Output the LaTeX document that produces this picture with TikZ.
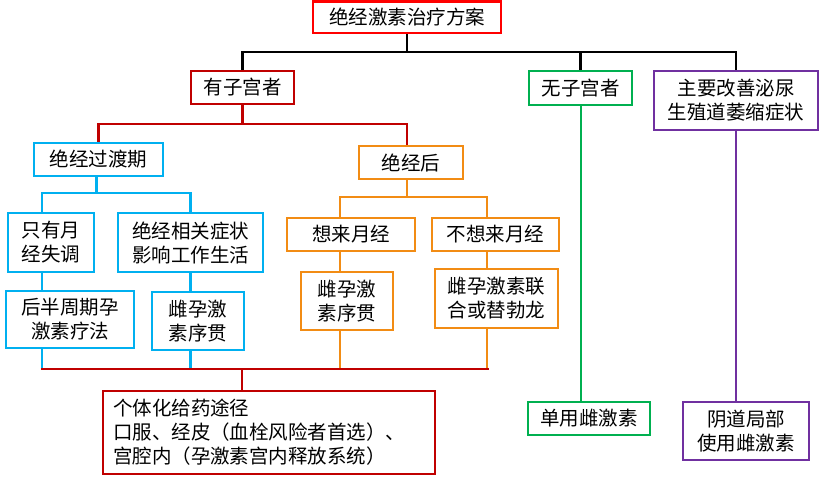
\documentclass[tikz,border=0pt]{standalone}
\usepackage{fontspec}
\setmainfont{Noto Sans CJK SC}
\definecolor{cRoot}{RGB}{255,0,0}
\definecolor{cDark}{RGB}{192,0,0}
\definecolor{cBlue}{RGB}{0,176,240}
\definecolor{cGreen}{RGB}{0,176,80}
\definecolor{cPurple}{RGB}{112,48,160}
\definecolor{cOrange}{RGB}{242,140,20}
\newcommand{\fsz}{\fontsize{19.5}{24}\selectfont}
\begin{document}
\begin{tikzpicture}[x=1pt,y=-1pt,
  box/.style={draw, line width=2.8pt, inner sep=0pt, align=center, font=\fsz, fill=white},
  conn/.style={line width=2.5pt},
  blk/.style={conn, draw=black},
  rl/.style={conn, draw=cDark},
  bl/.style={conn, draw=cBlue},
  ol/.style={conn, draw=cOrange},
  gl/.style={conn, draw=cGreen},
  pl/.style={conn, draw=cPurple}]
\useasboundingbox (0,0) rectangle (820,480);
\coordinate (busA) at (407,52);
\node[box, draw=cRoot, minimum width=188pt, minimum height=31.5pt] (root) at (407,17.25) {绝经激素治疗方案};
\node[box, draw=cDark, minimum width=103pt, minimum height=33pt] (yz) at (242.5,87.5) {有子宫者};
\node[box, draw=cGreen, minimum width=103pt, minimum height=34pt] (wz) at (580.5,88) {无子宫者};
\node[box, draw=cPurple, minimum width=164pt, minimum height=59pt] (pp) at (736,100.5) {主要改善泌尿\\生殖道萎缩症状};
\node[box, draw=cBlue, minimum width=129pt, minimum height=33pt] (gd) at (98.5,159.5) {绝经过渡期};
\node[box, draw=cOrange, minimum width=104pt, minimum height=33pt] (jh) at (411,162.5) {绝经后};
\node[box, draw=cBlue, minimum width=86pt, minimum height=59pt] (yy) at (51,242.5) {只有月\\经失调};
\node[box, draw=cBlue, minimum width=145pt, minimum height=59pt] (jx) at (190.5,242.5) {绝经相关症状\\影响工作生活};
\node[box, draw=cBlue, minimum width=128pt, minimum height=57pt] (hb) at (70,319.5) {后半周期孕\\激素疗法};
\node[box, draw=cBlue, minimum width=92pt, minimum height=58pt] (cb) at (198,321) {雌孕激\\素序贯};
\node[box, draw=cOrange, minimum width=128pt, minimum height=33pt] (xl) at (351,234.5) {想来月经};
\node[box, draw=cOrange, minimum width=127pt, minimum height=33pt] (bx) at (495.5,234.5) {不想来月经};
\node[box, draw=cOrange, minimum width=92pt, minimum height=58pt] (co) at (347,301) {雌孕激\\素序贯};
\node[box, draw=cOrange, minimum width=123pt, minimum height=59pt] (lh) at (496.5,298.5) {雌孕激素联\\合或替勃龙};
\node[box, draw=cDark, minimum height=83pt, inner xsep=10pt, text width=312pt, align=left] (gt) at (269,432.5) {个体化给药途径\\口服、经皮（血栓风险者首选）、\\宫腔内（孕激素宫内释放系统）};
\node[box, draw=cGreen, minimum width=122pt, minimum height=33pt] (dy) at (589,418.5) {单用雌激素};
\node[box, draw=cPurple, minimum width=126pt, minimum height=58pt] (yd) at (746,431) {阴道局部\\使用雌激素};
% black
\draw[blk] (root.south) -- (root.south |- busA);
\draw[blk] (yz.north) -- (yz.north |- busA) -| (pp.north);
\draw[blk] (wz.north) -- (wz.north |- busA);
% red
\draw[rl] (yz.south) -- (yz.south |- 0,124);
\draw[rl] (gd.north) -- (gd.north |- 0,124) -| ([xshift=-4pt]jh.north);
% blue
\draw[bl] ([xshift=-2pt]gd.south) -- ([xshift=-2pt]gd.south |- 0,193);
\draw[bl] (yy.north -| 42,0) -- (42,193) -| (jx.north);
\draw[bl] (yy.south -| 42,0) -- (hb.north -| 42,0);
\draw[bl] (jx.south) -- (cb.north -| jx.south);
\draw[bl] (hb.south -| 42,0) -- (42,369);
\draw[bl] (cb.south -| jx.south) -- (jx.south |- 0,369);
% orange
\draw[ol] ([xshift=-4pt]jh.south) -- ([xshift=-4pt]jh.south |- 0,197);
\draw[ol] (xl.north -| 340,0) -- (340,197) -| (bx.north -| 487,0);
\draw[ol] (xl.south -| 340,0) -- (co.north -| 340,0);
\draw[ol] (bx.south -| 487,0) -- (lh.north -| 487,0);
\draw[ol] (co.south -| 340,0) -- (340,368);
\draw[ol] (lh.south -| 487,0) -- (487,368);
% red bottom bus
\coordinate (busL) at (41,369);
\coordinate (busR) at (489,369);
\draw[rl] (busL) -- (busR);
\draw[rl] (gt.north -| 242,0) -- (242,369);
% green / purple
\draw[gl] (wz.south -| 581,0) -- (dy.north -| 581,0);
\draw[pl] (pp.south) -- (yd.north -| pp.south);
\end{tikzpicture}
\end{document}
